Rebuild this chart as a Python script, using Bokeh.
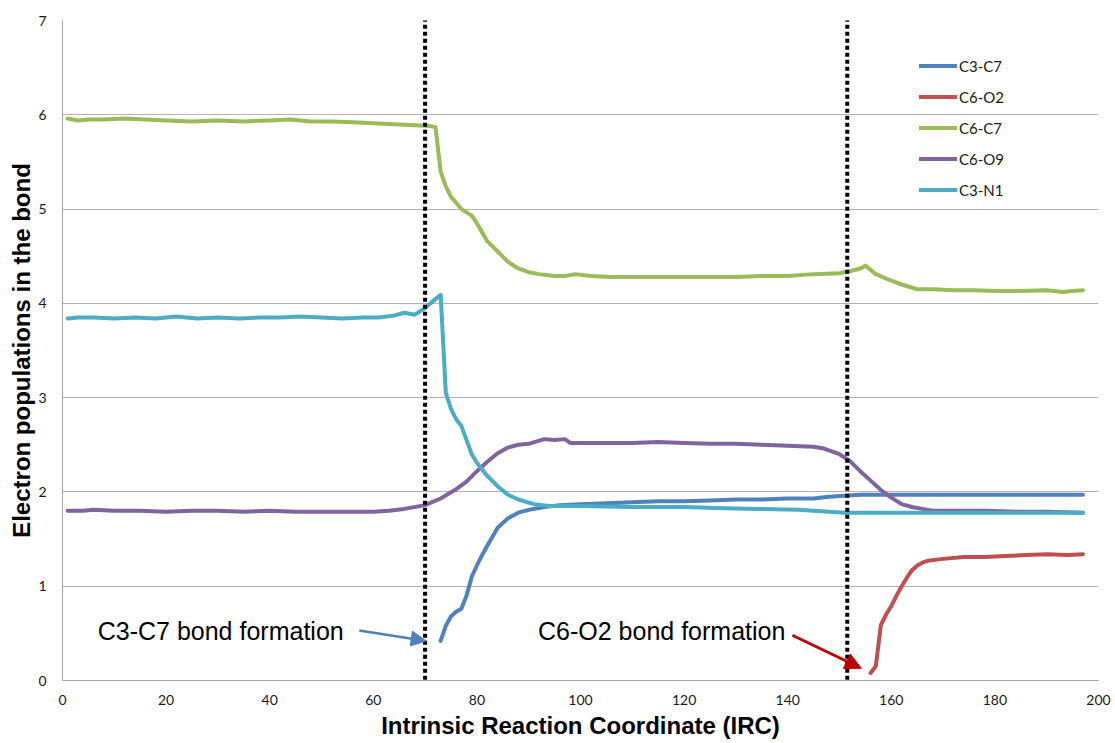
from bokeh.plotting import figure
from bokeh.models import Range1d, FixedTicker, Legend, LegendItem, Arrow, NormalHead, Label
from bokeh.embed import file_html
from bokeh.resources import INLINE

# ---------------- data ----------------
series_names = ["C3-C7", "C6-O2", "C6-C7", "C6-O9", "C3-N1"]
series_colors = ["#4F81BD", "#C0504D", "#9BBB59", "#8064A2", "#4BACC6"]

c3c7_x = [73, 74, 75, 76, 77, 78, 79, 80, 81, 82, 84, 86, 88, 90, 93, 96, 100, 105, 110, 115,
          120, 125, 130, 135, 140, 145, 148, 151, 154, 160, 170, 180, 190, 197]
c3c7_y = [0.42, 0.58, 0.68, 0.73, 0.76, 0.90, 1.10, 1.22, 1.33, 1.43, 1.62, 1.72, 1.78, 1.81, 1.84,
          1.86, 1.87, 1.88, 1.89, 1.90, 1.90, 1.91, 1.92, 1.92, 1.93, 1.93, 1.95, 1.96, 1.97, 1.97,
          1.97, 1.97, 1.97, 1.97]

c6o2_x = [156, 157, 158, 159, 160, 161, 162, 163, 164, 165, 166, 167, 170, 174, 178, 182, 186,
          190, 194, 197]
c6o2_y = [0.08, 0.15, 0.59, 0.70, 0.79, 0.90, 1.00, 1.09, 1.17, 1.22, 1.25, 1.27, 1.29, 1.31,
          1.31, 1.32, 1.33, 1.34, 1.33, 1.34]

c6c7_x = [1, 3, 5, 8, 12, 16, 20, 25, 30, 35, 40, 44, 48, 52, 56, 60, 64, 68, 71, 72, 73, 74, 75,
          77, 79, 80, 82, 84, 86, 88, 90, 92, 95, 97, 99, 102, 106, 110, 115, 120, 125, 130, 135,
          140, 145, 150, 152, 154, 155, 157, 160, 162, 165, 168, 172, 176, 180, 185, 190, 193,
          195, 197]
c6c7_y = [5.96, 5.94, 5.95, 5.95, 5.96, 5.95, 5.94, 5.93, 5.94, 5.93, 5.94, 5.95, 5.93, 5.93,
          5.92, 5.91, 5.90, 5.89, 5.88, 5.87, 5.40, 5.24, 5.13, 5.00, 4.93, 4.85, 4.66, 4.55, 4.44,
          4.37, 4.33, 4.31, 4.29, 4.29, 4.31, 4.29, 4.28, 4.28, 4.28, 4.28, 4.28, 4.28, 4.29, 4.29,
          4.31, 4.32, 4.34, 4.37, 4.40, 4.31, 4.24, 4.20, 4.15, 4.15, 4.14, 4.14, 4.13, 4.13, 4.14,
          4.12, 4.13, 4.14]

c6o9_x = [1, 4, 6, 10, 15, 20, 25, 30, 35, 40, 45, 50, 55, 60, 63, 66, 70, 73, 76, 78, 80, 82,
          84, 86, 88, 90, 93, 95, 97, 98, 100, 105, 110, 115, 120, 125, 130, 135, 140, 145, 147,
          150, 152, 154, 156, 158, 160, 162, 164, 166, 168, 172, 178, 185, 190, 197]
c6o9_y = [1.80, 1.80, 1.81, 1.80, 1.80, 1.79, 1.80, 1.80, 1.79, 1.80, 1.79, 1.79, 1.79, 1.79,
          1.80, 1.82, 1.86, 1.93, 2.03, 2.11, 2.22, 2.32, 2.41, 2.47, 2.50, 2.51, 2.56, 2.55, 2.56,
          2.52, 2.52, 2.52, 2.52, 2.53, 2.52, 2.51, 2.51, 2.50, 2.49, 2.48, 2.46, 2.40, 2.33, 2.22,
          2.12, 2.02, 1.94, 1.87, 1.84, 1.82, 1.80, 1.80, 1.80, 1.79, 1.79, 1.78]

c3n1_x = [1, 3, 6, 10, 14, 18, 22, 26, 30, 34, 38, 42, 46, 50, 54, 58, 61, 64, 66, 68, 70, 71,
          73, 74, 75, 76, 77, 78, 79, 80, 82, 84, 86, 88, 91, 94, 100, 110, 120, 126, 134, 142,
          148, 151, 155, 165, 175, 185, 197]
c3n1_y = [3.84, 3.85, 3.85, 3.84, 3.85, 3.84, 3.86, 3.84, 3.85, 3.84, 3.85, 3.85, 3.86, 3.85,
          3.84, 3.85, 3.85, 3.87, 3.90, 3.88, 3.95, 4.00, 4.09, 3.05, 2.88, 2.77, 2.70, 2.55, 2.40,
          2.31, 2.17, 2.06, 1.97, 1.92, 1.87, 1.85, 1.85, 1.84, 1.84, 1.83, 1.82, 1.81, 1.79, 1.78,
          1.78, 1.78, 1.78, 1.78, 1.78]

x_ticks = [0, 20, 40, 60, 80, 100, 120, 140, 160, 180, 200]
y_ticks = [0, 1, 2, 3, 4, 5, 6, 7]
event_x = [70, 151.5]

# ---------------- figure ----------------
p = figure(frame_width=1036, frame_height=660, output_backend="svg", toolbar_location=None,
           x_range=Range1d(0, 200), y_range=Range1d(0, 7),
           min_border_left=62, min_border_right=13, min_border_top=20, min_border_bottom=20)
p.outline_line_color = None
p.background_fill_color = "white"
p.border_fill_color = "white"

for ax in (p.xaxis[0], p.yaxis[0]):
    ax.major_tick_line_color = None
    ax.minor_tick_line_color = None
    ax.major_tick_out = 0
    ax.major_tick_in = 0
    ax.axis_line_color = "#A6A6A6"
    ax.axis_line_width = 1
    ax.major_label_text_font = "Lato"
    ax.major_label_text_font_size = "14px"
    ax.major_label_text_color = "#1a1a1a"
    ax.axis_label_text_font = "Liberation Sans"
    ax.axis_label_text_font_style = "bold"
    ax.axis_label_text_font_size = "24px"
    ax.axis_label_text_color = "black"

p.xaxis[0].ticker = FixedTicker(ticks=x_ticks)
p.yaxis[0].ticker = FixedTicker(ticks=y_ticks)
p.xaxis[0].axis_label = "Intrinsic Reaction Coordinate (IRC)"
p.yaxis[0].axis_label = "Electron populations in the bond"
p.xaxis[0].major_label_standoff = 14
p.xaxis[0].axis_label_standoff = 4
p.yaxis[0].major_label_standoff = 16
p.yaxis[0].axis_label_standoff = 0

p.xgrid.grid_line_color = None
p.ygrid.grid_line_color = "#B3B3B3"
p.ygrid.grid_line_width = 1
p.ygrid.ticker = FixedTicker(ticks=y_ticks)

xs = [c3c7_x, c6o2_x, c6c7_x, c6o9_x, c3n1_x]
ys = [c3c7_y, c6o2_y, c6c7_y, c6o9_y, c3n1_y]
items = []
for name, color, x, y in zip(series_names, series_colors, xs, ys):
    r = p.line(x, y, line_color=color, line_width=4, line_cap="round", line_join="round")
    items.append(LegendItem(label=name, renderers=[r]))

legend = Legend(items=items, location=(857, 475), padding=0, margin=0, spacing=0,
                glyph_width=38, glyph_height=31, label_height=31, label_standoff=2,
                label_text_font="Lato", label_text_font_size="15px", label_text_color="#1a1a1a",
                border_line_color=None, background_fill_alpha=0)
p.add_layout(legend)

# vertical dotted event lines
for ex in event_x:
    p.add_layout(Arrow(end=None, x_start=ex, y_start=-0.14, x_end=ex, y_end=7.1,
                       line_color="black", line_width=4, line_dash="4 3"))

# annotations
p.add_layout(Label(x=6.8, y=0.52, text="C3-C7 bond formation", text_font="Liberation Sans",
                   text_font_size="25px", text_color="black", text_baseline="middle"))
p.add_layout(Label(x=91.8, y=0.52, text="C6-O2 bond formation", text_font="Liberation Sans",
                   text_font_size="25px", text_color="black", text_baseline="middle"))
p.add_layout(Arrow(end=NormalHead(size=15, fill_color="#4F81BD", line_color="#4F81BD"),
                   x_start=57.3, y_start=0.53, x_end=70.2, y_end=0.42,
                   line_color="#4F81BD", line_width=2.5))
p.add_layout(Arrow(end=NormalHead(size=16, fill_color="#C00000", line_color="#C00000"),
                   x_start=140.9, y_start=0.48, x_end=154.2, y_end=0.13,
                   line_color="#C00000", line_width=3))

open("out.html", "w").write(file_html(p, INLINE))
